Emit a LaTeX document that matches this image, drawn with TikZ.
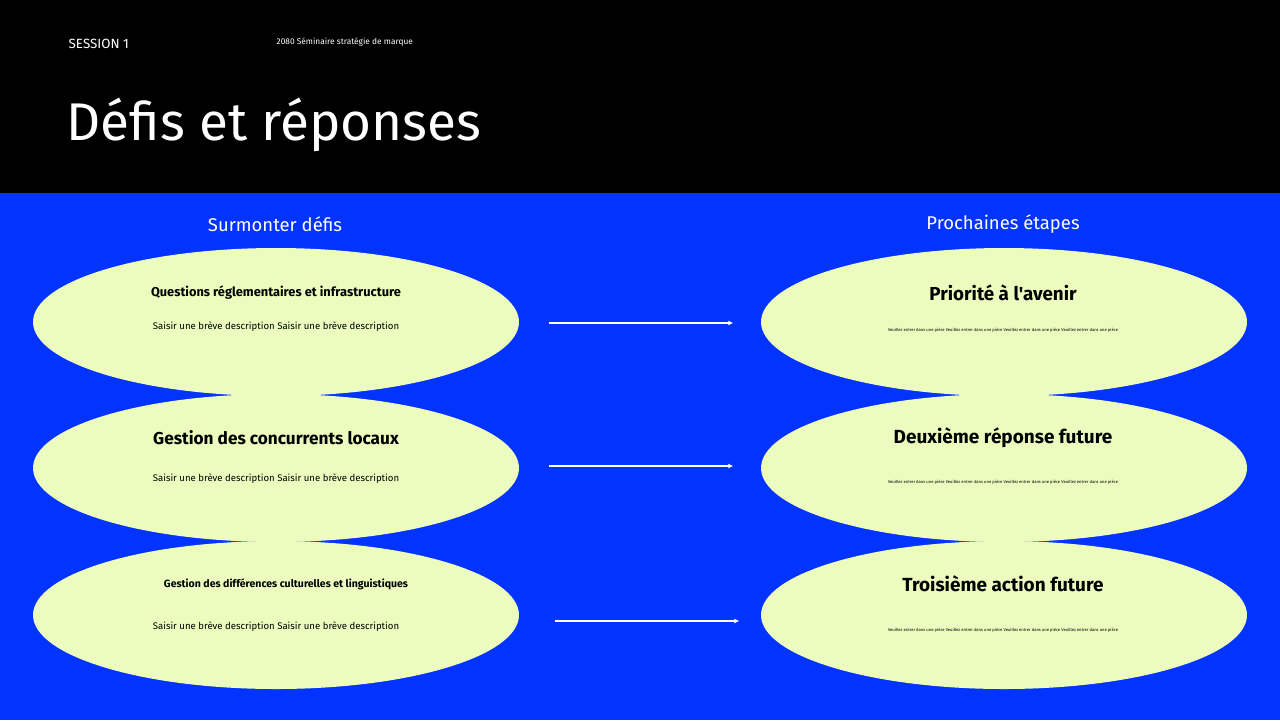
\documentclass[tikz,border=0pt]{standalone}
\usepackage{fontspec}
\setmainfont{Fira Sans}[Ligatures=TeXOff]
\usetikzlibrary{shapes.geometric,arrows.meta}
\definecolor{slideblue}{RGB}{3,51,255}
\definecolor{palelime}{RGB}{235,252,190}
\tikzset{
  blob/.style={ellipse,fill=palelime,minimum width=48.6mm,minimum height=14.8mm,inner sep=0pt},
  flow/.style={-{Latex[length=1.4pt,width=1.4pt]},white,line width=0.45pt,shorten <=2.9mm,shorten >=2.7mm},
  every node/.style={inner sep=0pt},
}
\begin{document}
\begin{tikzpicture}[x=0.1mm,y=-0.1mm]
                    \useasboundingbox (0,0) rectangle (1280,720);
                    \fill[black] (0,0) rectangle (1280,193);
                    \fill[slideblue] (0,193) rectangle (1280,720);
                    \node[white,anchor=west,font=\fontsize{3.8}{5}\selectfont] (sess) at (68,44) {SESSION 1};
                    \node[white,anchor=west,font=\fontsize{2.37}{3}\selectfont] (sem) at (276,42) {2080 Séminaire stratégie de marque};
                    \node[white,anchor=west,font=\fontsize{15.1}{18}\selectfont] (title) at (66,125) {Défis et réponses};
                    \node[white,font=\fontsize{5.25}{6}\selectfont] (hl) at (275,224) {Surmonter défis};
                    \node[white,font=\fontsize{5.25}{6}\selectfont] (hr) at (1003,224) {Prochaines étapes};
                    % left column
                    \node[blob] (l1) at (276,322) {};
                    \node[blob] (l2) at (276,468) {};
                    \node[blob] (l3) at (276,615) {};
                    % right column
                    \node[blob] (r1) at (1004,322) {};
                    \node[blob] (r2) at (1004,468) {};
                    \node[blob] (r3) at (1004,615) {};
                    \node[font=\bfseries\fontsize{3.65}{4}\selectfont] (t1) at (276,293) {Questions réglementaires et infrastructure};
                    \node[font=\fontsize{2.73}{3}\selectfont] (d1) at (276,327) {Saisir une brève description Saisir une brève description};
                    \node[font=\bfseries\fontsize{4.9}{5}\selectfont] (t2) at (276,438) {Gestion des concurrents locaux};
                    \node[font=\fontsize{2.73}{3}\selectfont] (d2) at (276,479) {Saisir une brève description Saisir une brève description};
                    \node[font=\bfseries\fontsize{3}{4}\selectfont] (t3) at (286,584) {Gestion des différences culturelles et linguistiques};
                    \node[font=\fontsize{2.73}{3}\selectfont] (d3) at (276,627) {Saisir une brève description Saisir une brève description};
                    \node[font=\bfseries\fontsize{5.35}{6}\selectfont] (u1) at (1003,293) {Priorité à l'avenir};
                    \node[font=\fontsize{1.18}{1.5}\selectfont] (v1) at (1003,330) {Veuillez entrer dans une pièce Veuillez entrer dans une pièce Veuillez entrer dans une pièce Veuillez entrer dans une pièce};
                    \node[font=\bfseries\fontsize{5.4}{6}\selectfont] (u2) at (1003,438) {Deuxième réponse future};
                    \node[font=\fontsize{1.18}{1.5}\selectfont] (v2) at (1003,482) {Veuillez entrer dans une pièce Veuillez entrer dans une pièce Veuillez entrer dans une pièce Veuillez entrer dans une pièce};
                    \node[font=\bfseries\fontsize{5.4}{6}\selectfont] (u3) at (1003,584) {Troisième action future};
                    \node[font=\fontsize{1.18}{1.5}\selectfont] (v3) at (1003,630) {Veuillez entrer dans une pièce Veuillez entrer dans une pièce Veuillez entrer dans une pièce Veuillez entrer dans une pièce};
                    % arrows
                    \draw[flow] ([yshift=-0.28pt]l1.east) -- ([yshift=-0.28pt]r1.west);
                    \draw[flow] ([yshift=0.57pt]l2.east) -- ([yshift=0.57pt]r2.west);
                    \draw[flow,shorten <=3.5mm,shorten >=2.1mm] ([yshift=-1.7pt]l3.east) -- ([yshift=-1.7pt]r3.west);
                \end{tikzpicture}
\end{document}
